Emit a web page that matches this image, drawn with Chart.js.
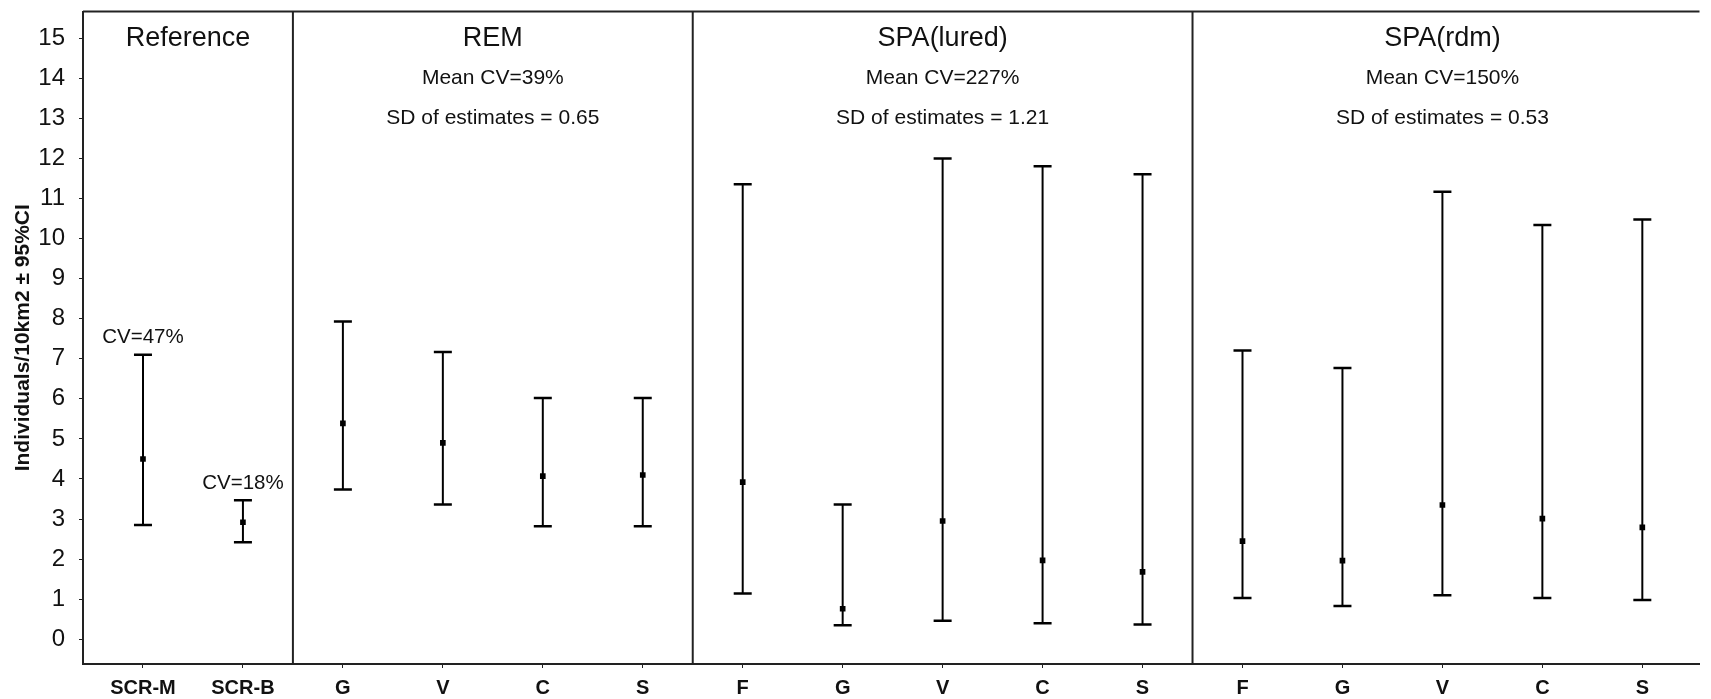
<!DOCTYPE html>
<html>
<head>
<meta charset="utf-8">
<script src="https://cdn.jsdelivr.net/npm/chart.js@4"></script>
<style>
  html, body { margin: 0; padding: 0; background: #fff; overflow: hidden; }
  canvas { display: block; }
</style>
</head>
<body>
<canvas id="chart" width="1711" height="699"></canvas>
<script>
// categories along the x axis, grouped into panels
const categories = ["SCR-M","SCR-B","G","V","C","S","F","G","V","C","S","F","G","V","C","S"];
const estimates = [4.50,2.92,5.39,4.90,4.07,4.10,3.92,0.76,2.95,1.97,1.68,2.45,1.96,3.35,3.01,2.79];
const lowerCI   = [2.85,2.42,3.74,3.36,2.82,2.82,1.14,0.35,0.46,0.40,0.37,1.03,0.83,1.10,1.03,0.98];
const upperCI   = [7.10,3.47,7.93,7.17,6.02,6.02,11.36,3.36,12.00,11.81,11.61,7.21,6.77,11.17,10.34,10.48];
const yTicks = [0,1,2,3,4,5,6,7,8,9,10,11,12,13,14,15];

const panelNames = ["Reference","REM","SPA(lured)","SPA(rdm)"];
const panelSizes = [2,4,5,5];
const panelMeanCV = [null,"39%","227%","150%"];
const panelSD = [null,"0.65","1.21","0.53"];
const referenceCV = ["47%","18%"];

const X_MIN = -0.6, X_MAX = 15.572;
const Y_MIN = -0.619, Y_MAX = 15.671;
const TEXT_FONT = '"Liberation Sans", Arial, sans-serif';

// error bar segments: low, high, gap
const intervals = [];
categories.forEach((c, i) => {
  intervals.push({x: i, y: lowerCI[i]});
  intervals.push({x: i, y: upperCI[i]});
  intervals.push({x: i, y: null});
});
const means = estimates.map((v, i) => ({x: i, y: v}));

function label(ctx, text, x, y, size) {
  ctx.save();
  ctx.font = size + "px " + TEXT_FONT;
  ctx.fillStyle = "#111";
  ctx.textAlign = "center";
  ctx.textBaseline = "middle";
  ctx.fillText(text, x, y);
  ctx.restore();
}

const panelPlugin = {
  id: "panels",
  afterDraw(chart) {
    const {ctx, chartArea: a, scales: {x, y}} = chart;
    ctx.save();
    ctx.strokeStyle = "#222";
    ctx.lineWidth = 2;
    ctx.beginPath();
    ctx.moveTo(a.left, a.top);
    ctx.lineTo(a.right, a.top);
    ctx.stroke();

    // dividers between panels
    const bounds = [X_MIN];
    let cum = 0;
    panelSizes.forEach((n, k) => {
      cum += n;
      const b = cum - 0.5;
      bounds.push(b);
      if (k < panelSizes.length - 1) {
        const px = x.getPixelForValue(b);
        ctx.beginPath();
        ctx.moveTo(px, a.top);
        ctx.lineTo(px, a.bottom);
        ctx.stroke();
      }
    });
    ctx.restore();

    panelNames.forEach((name, k) => {
      const cx = x.getPixelForValue((bounds[k] + bounds[k + 1]) / 2);
      label(ctx, name, cx, y.getPixelForValue(15), 27);
      if (panelMeanCV[k]) label(ctx, "Mean CV=" + panelMeanCV[k], cx, y.getPixelForValue(14), 21);
      if (panelSD[k]) label(ctx, "SD of estimates = " + panelSD[k], cx, y.getPixelForValue(13), 21);
    });

    referenceCV.forEach((cv, i) => {
      label(ctx, "CV=" + cv, x.getPixelForValue(i), y.getPixelForValue(upperCI[i] + 0.43), 20.5);
    });
  }
};

new Chart(document.getElementById("chart"), {
  type: "scatter",
  data: {
    datasets: [{
      data: intervals,
      showLine: true,
      spanGaps: false,
      borderColor: "#000",
      borderWidth: 2,
      pointStyle: "line",
      pointRadius: 9,
      pointBorderWidth: 2.5,
      pointBorderColor: "#000"
    }, {
      data: means,
      pointStyle: "rect",
      pointRadius: 4,
      pointBackgroundColor: "#000",
      pointBorderWidth: 0
    }]
  },
  options: {
    responsive: false,
    animation: false,
    layout: {padding: {top: 9, left: 0, right: 0, bottom: 0}},
    plugins: {legend: {display: false}, tooltip: {enabled: false}},
    scales: {
      x: {
        type: "linear",
        min: X_MIN,
        max: X_MAX,
        afterBuildTicks(scale) { scale.ticks = categories.map((c, i) => ({value: i})); },
        afterFit(scale) { scale.height = 35; scale.paddingLeft = 0; scale.paddingRight = 0; },
        ticks: {
          callback: (v) => categories[v],
          font: {family: "Liberation Sans", weight: "bold", size: 20},
          color: "#111",
          padding: 8,
          maxRotation: 0,
          autoSkip: false
        },
        grid: {drawOnChartArea: false, tickLength: 4, color: "#222"},
        border: {display: true, color: "#222", width: 2}
      },
      y: {
        type: "linear",
        min: Y_MIN,
        max: Y_MAX,
        afterBuildTicks(scale) { scale.ticks = yTicks.map(v => ({value: v})); },
        afterFit(scale) { scale.width = 83; scale.paddingTop = 0; scale.paddingBottom = 0; },
        ticks: {
          font: {family: "Liberation Sans", size: 24},
          color: "#111",
          padding: 14
        },
        grid: {drawOnChartArea: false, tickLength: 4, color: "#222"},
        border: {display: true, color: "#222", width: 2},
        title: {
          display: true,
          text: "Individuals/10km2 ± 95%CI",
          font: {family: "Liberation Sans", weight: "bold", size: 21},
          color: "#111",
          padding: {top: 11, bottom: 0}
        }
      }
    }
  },
  plugins: [panelPlugin]
});
</script>
</body>
</html>
